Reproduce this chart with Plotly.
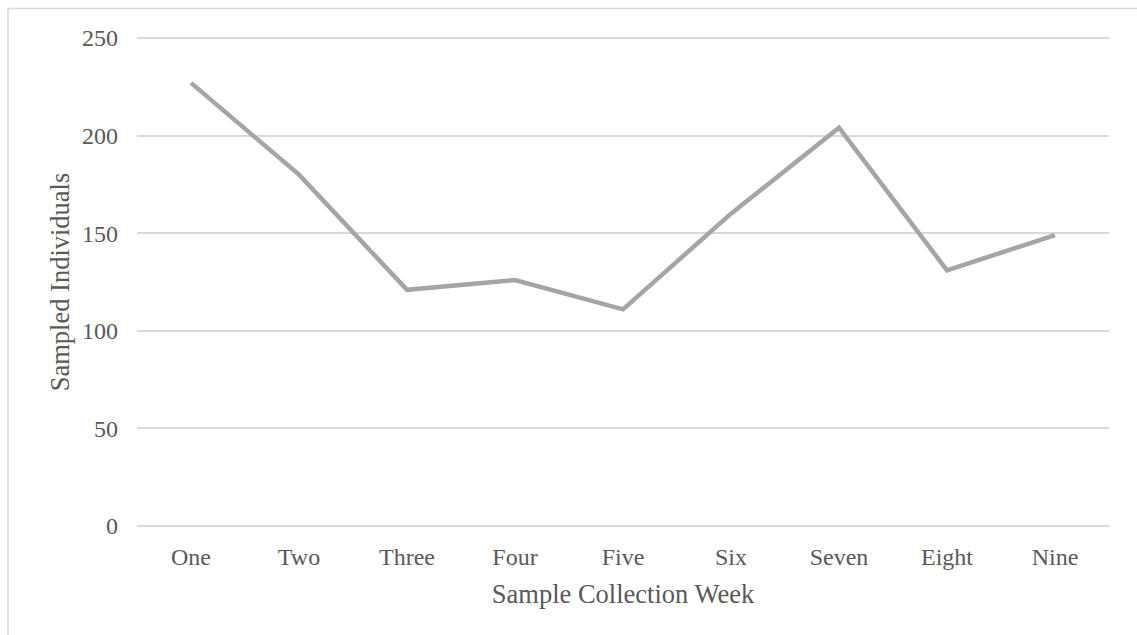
import plotly.graph_objects as go

# Weekly sample counts
weeks = ["One", "Two", "Three", "Four", "Five", "Six", "Seven", "Eight", "Nine"]
sampled_individuals = [227, 180, 121, 126, 111, 160, 204, 131, 149]

y_ticks = [0, 50, 100, 150, 200, 250]

TEXT = "#595959"
GRID = "#d9d9d9"
FONT = "Liberation Serif, Times New Roman, serif"

# plot area: 0 -> y=526 px, 250 -> y=38 px; range padded by 1 unit so the
# end gridlines are drawn
PAD = 1.0
PX_PER_UNIT = 488 / 250
top_m = 38 - PAD * PX_PER_UNIT
bot_m = 109 - PAD * PX_PER_UNIT
plot_h = 635 - top_m - bot_m

fig = go.Figure()
fig.add_trace(go.Scatter(
    x=weeks,
    y=sampled_individuals,
    mode="lines",
    line=dict(color="#a5a5a5", width=4.5),
    showlegend=False,
    hoverinfo="x+y",
))

fig.update_layout(
    width=1137,
    height=635,
    margin=dict(l=137, r=28, t=top_m, b=bot_m),
    paper_bgcolor="white",
    plot_bgcolor="white",
    font=dict(family=FONT, color=TEXT, size=24),
    xaxis=dict(
        type="category",
        range=[-0.5, 8.5],
        showgrid=False,
        zeroline=False,
        showline=False,
        ticks="",
        ticklabelstandoff=12,
        tickfont=dict(size=24, color=TEXT),
        title=dict(text="Sample Collection Week", font=dict(size=26.5, color=TEXT), standoff=15),
    ),
    yaxis=dict(
        range=[-PAD, 250 + PAD],
        tickvals=y_ticks,
        showgrid=True,
        gridcolor=GRID,
        gridwidth=1.5,
        zeroline=False,
        showline=False,
        ticks="",
        ticklabelstandoff=18,
        tickfont=dict(size=24, color=TEXT),
        title=dict(text="Sampled Individuals", font=dict(size=26.5, color=TEXT), standoff=4),
    ),
    shapes=[
        # chart area frame
        dict(type="rect", xref="paper", yref="paper",
             x0=(8 - 137) / 972, x1=(1145 - 137) / 972,
             y0=-(645 - (635 - bot_m)) / plot_h, y1=((635 - bot_m) - 8.5) / plot_h,
             line=dict(color=GRID, width=1.5), fillcolor="rgba(0,0,0,0)", layer="below"),
    ],
)

fig.write_html("out.html")
